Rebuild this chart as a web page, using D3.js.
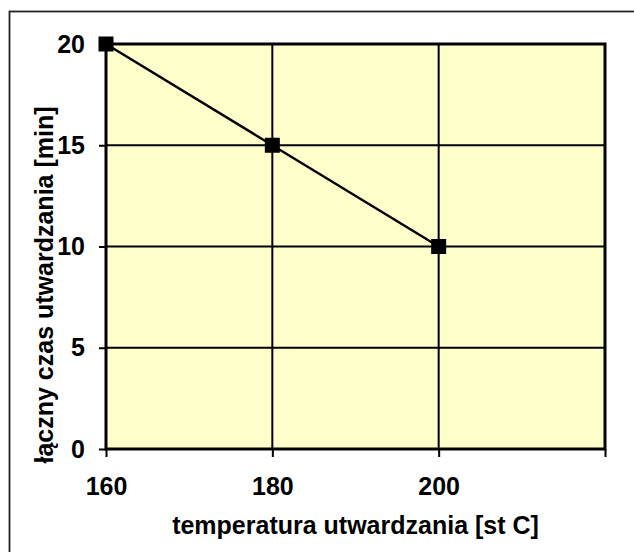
<!DOCTYPE html>
<html>
<head>
<meta charset="utf-8">
<script src="https://cdn.jsdelivr.net/npm/d3@7"></script>
<style>
  body { margin: 0; background: #fff; }
  text { font-family: "Liberation Sans", Arial, sans-serif; font-weight: bold; fill: #000; }
</style>
</head>
<body>
<svg id="chart" width="634" height="552"></svg>
<script>
// data
var temps = [160, 180, 200];
var times = [20, 15, 10];
var xTicks = [160, 180, 200, 220];
var xTickLabels = ["160", "180", "200", ""];
var yTicks = [0, 5, 10, 15, 20];

var svg = d3.select("#chart");

var margin = { left: 106, top: 44, right: 605, bottom: 449 };

var x = d3.scaleLinear().domain([160, 220]).range([margin.left, margin.right]);
var y = d3.scaleLinear().domain([0, 20]).range([margin.bottom, margin.top]);

// outer frame (cut off at right/bottom)
svg.append("rect")
	.attr("x", 9.5).attr("y", 11.5)
	.attr("width", 700).attr("height", 700)
	.attr("fill", "none")
	.attr("stroke", "#222")
	.attr("stroke-width", 1.8);

// plot background
svg.append("rect")
	.attr("x", margin.left).attr("y", margin.top)
	.attr("width", margin.right - margin.left)
	.attr("height", margin.bottom - margin.top)
	.attr("fill", "#ffffcc");

// gridlines
svg.append("g").selectAll("line.h")
	.data(yTicks)
	.enter().append("line")
	.attr("x1", margin.left).attr("x2", margin.right)
	.attr("y1", function(d) { return y(d); })
	.attr("y2", function(d) { return y(d); })
	.attr("stroke", "#000").attr("stroke-width", 2);

svg.append("g").selectAll("line.v")
	.data(xTicks)
	.enter().append("line")
	.attr("x1", function(d) { return x(d); })
	.attr("x2", function(d) { return x(d); })
	.attr("y1", margin.top).attr("y2", margin.bottom)
	.attr("stroke", "#000").attr("stroke-width", 2);

// plot border
svg.append("rect")
	.attr("x", margin.left).attr("y", margin.top)
	.attr("width", margin.right - margin.left)
	.attr("height", margin.bottom - margin.top)
	.attr("fill", "none")
	.attr("stroke", "#000")
	.attr("stroke-width", 3);

// axes
var xAxis = d3.axisBottom(x)
	.tickValues(xTicks)
	.tickSize(8)
	.tickPadding(20)
	.tickFormat(function(d, i) { return xTickLabels[i]; });

var gx = svg.append("g")
	.attr("transform", "translate(0," + margin.bottom + ")")
	.call(xAxis);

var yAxis = d3.axisLeft(y)
	.tickValues(yTicks)
	.tickSize(7)
	.tickPadding(14);

var gy = svg.append("g")
	.attr("transform", "translate(" + margin.left + ",0)")
	.call(yAxis);

[gx, gy].forEach(function(g) {
	g.select(".domain").remove();
	g.attr("font-size", null).attr("font-family", null);
	g.selectAll(".tick line").attr("stroke", "#000").attr("stroke-width", 2);
	g.selectAll(".tick text")
		.style("font-size", "25px")
		.style("font-family", "'Liberation Sans', Arial, sans-serif")
		.style("font-weight", "bold");
});

// axis titles
svg.append("text")
	.attr("x", (margin.left + margin.right) / 2)
	.attr("y", 534)
	.attr("text-anchor", "middle")
	.style("font-size", "25px")
	.text("temperatura utwardzania [st C]");

svg.append("text")
	.attr("transform", "translate(53," + 285 + ") rotate(-90)")
	.attr("text-anchor", "middle")
	.style("font-size", "25px")
	.text("łączny czas utwardzania [min]");

// series
var line = d3.line()
	.x(function(d, i) { return x(temps[i]); })
	.y(function(d) { return y(d); });

svg.append("path")
	.datum(times)
	.attr("d", line)
	.attr("fill", "none")
	.attr("stroke", "#000")
	.attr("stroke-width", 2.5);

var ms = 15;
svg.append("g").selectAll("rect")
	.data(times)
	.enter().append("rect")
	.attr("x", function(d, i) { return x(temps[i]) - ms / 2; })
	.attr("y", function(d) { return y(d) - ms / 2; })
	.attr("width", ms).attr("height", ms)
	.attr("fill", "#000");
</script>
</body>
</html>
